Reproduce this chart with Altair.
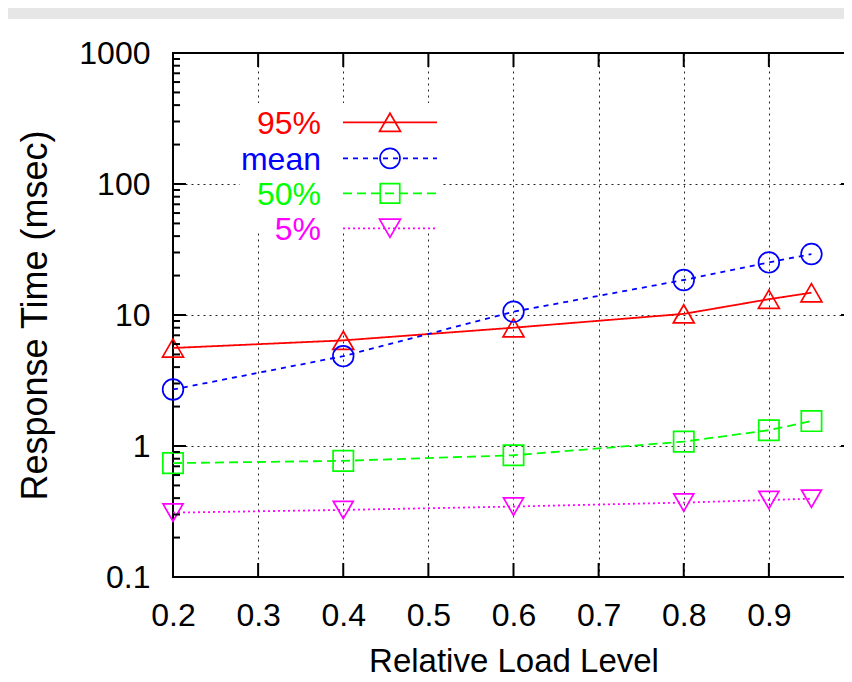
import altair as alt
import pandas as pd

# ---- data ----
load = [0.2, 0.4, 0.6, 0.8, 0.9, 0.95]
series = ["95%", "mean", "50%", "5%"]
p95 = [5.6, 6.4, 8.0, 10.2, 13.2, 14.8]
mean = [2.7, 4.85, 10.6, 18.5, 25.2, 29.2]
p50 = [0.74, 0.77, 0.85, 1.08, 1.32, 1.55]
p5 = [0.31, 0.325, 0.345, 0.37, 0.387, 0.396]

x_ticks = [0.2, 0.3, 0.4, 0.5, 0.6, 0.7, 0.8, 0.9, 1.0]
x_inner = [0.3, 0.4, 0.5, 0.6, 0.7, 0.8, 0.9]
y_ticks = [0.1, 1, 10, 100, 1000]
y_minor = [k * d for d in [0.1, 1, 10, 100] for k in range(2, 10)]

colors = ["#ff0000", "#0000ff", "#00ff00", "#ff00ff"]
dashes = [[1, 0], [5, 5], [9, 5], [2, 3]]
shapes = ["triangle-up", "circle", "square", "triangle-down"]
sizes = [440, 400, 380, 440]

W, H = 681, 524
FONT = "Liberation Sans"

df = pd.DataFrame({
    "load": load * 4,
    "value": p95 + mean + p50 + p5,
    "series": [s for s in series for _ in load],
})

xs = alt.Scale(domain=[0.2, 1.0], nice=False, zero=False)
ys = alt.Scale(type="log", domain=[0.1, 1000], nice=False)

x_axis = alt.Axis(
    values=x_ticks, format="~g", labelFontSize=32, labelFont=FONT, labelColor="black",
    ticks=False, domain=False, grid=True, gridColor="black", gridDash=[2, 4], gridWidth=1,
    gridOpacity=0.85, labelPadding=48, labelBaseline="alphabetic", labelFlush=False,
    labelOverlap=False, labelBound=False,
    title="Relative Load Level", titleFont=FONT, titleFontSize=33, titleFontWeight="normal",
    titleColor="black", titleY=94, titleBaseline="alphabetic",
)
y_axis = alt.Axis(
    values=y_ticks, format="~g", labelFontSize=32, labelFont=FONT, labelColor="black",
    ticks=False, domain=False, grid=True, gridColor="black", gridDash=[2, 4], gridWidth=1,
    gridOpacity=0.85, labelPadding=23, labelBaseline="middle", labelFlush=False,
    labelOverlap=False, labelBound=False,
    title="Response Time (msec)", titleFont=FONT, titleFontSize=36, titleFontWeight="normal",
    titleColor="black", titleX=-127, titleY=H / 2, titleBaseline="alphabetic", titleAngle=270,
    titleAlign="center",
)

color = alt.Color("series:N", scale=alt.Scale(domain=series, range=colors), legend=None)

base = alt.Chart(df).encode(
    x=alt.X("load:Q", scale=xs, axis=x_axis),
    y=alt.Y("value:Q", scale=ys, axis=y_axis),
    color=color,
)

lines = base.mark_line(strokeWidth=1.8).encode(
    strokeDash=alt.StrokeDash("series:N", scale=alt.Scale(domain=series, range=dashes), legend=None),
    detail="series:N",
)
points = base.mark_point(filled=False, strokeWidth=1.7, opacity=1).encode(
    shape=alt.Shape("series:N", scale=alt.Scale(domain=series, range=shapes), legend=None),
    size=alt.Size("series:N", scale=alt.Scale(domain=series, range=sizes), legend=None),
)

one = pd.DataFrame({"a": [0]})
# white legend box (opaque key)
keybox = alt.Chart(one).mark_rect(color="white").encode(
    x=alt.value(67), x2=alt.value(267), y=alt.value(50), y2=alt.value(180)
)

# gray header band of the slide
band = alt.Chart(one).mark_rect(color="#e6e6e6").encode(
    x=alt.value(-185), x2=alt.value(700), y=alt.value(-65), y2=alt.value(-34)
)

# inward ticks
ymaj = pd.DataFrame({"v": y_ticks})
ymin = pd.DataFrame({"v": y_minor})
xin = pd.DataFrame({"v": x_inner})
tick_layers = []
for d, ln in [(ymaj, 13), (ymin, 7)]:
    tick_layers.append(alt.Chart(d).mark_rule(color="black", strokeWidth=2).encode(
        y=alt.Y("v:Q", scale=ys, axis=y_axis), x=alt.value(0), x2=alt.value(ln)))
    tick_layers.append(alt.Chart(d).mark_rule(color="black", strokeWidth=2).encode(
        y=alt.Y("v:Q", scale=ys, axis=y_axis), x=alt.value(W - ln), x2=alt.value(W)))
tick_layers.append(alt.Chart(xin).mark_rule(color="black", strokeWidth=2).encode(
    x=alt.X("v:Q", scale=xs, axis=x_axis), y=alt.value(H), y2=alt.value(H - 14)))
tick_layers.append(alt.Chart(xin).mark_rule(color="black", strokeWidth=2).encode(
    x=alt.X("v:Q", scale=xs, axis=x_axis), y=alt.value(0), y2=alt.value(14)))

# custom key (labels left of samples, gnuplot style)
rows = [69.3, 105.3, 140.3, 175.3]
key_layers = []
for name, c, dsh, shp, sz, ry in zip(series, colors, dashes, shapes, sizes, rows):
    nd = pd.DataFrame({"name": [name]})
    key_layers.append(alt.Chart(nd).mark_text(
        align="right", baseline="alphabetic", fontSize=32, font=FONT, color=c
    ).encode(x=alt.value(148), y=alt.value(ry + 11.7), text="name:N"))
    key_layers.append(alt.Chart(nd).mark_rule(color=c, strokeWidth=1.8, strokeDash=dsh).encode(
        x=alt.value(170), x2=alt.value(264), y=alt.value(ry)))
    key_layers.append(alt.Chart(nd).mark_point(
        shape=shp, size=sz, filled=False, color=c, strokeWidth=1.7, opacity=1
    ).encode(x=alt.value(217), y=alt.value(ry)))

chart = alt.layer(
    band, keybox, lines, points, *tick_layers, *key_layers
).properties(
    width=W, height=H,
    autosize=alt.AutoSizeParams(type="none"),
    padding={"left": 165, "top": 45, "right": -10, "bottom": 97},
    background="white",
).configure(font=FONT).configure_view(stroke="black", strokeWidth=2)

chart.save("out.html", embed_options={"renderer": "svg", "actions": False})
